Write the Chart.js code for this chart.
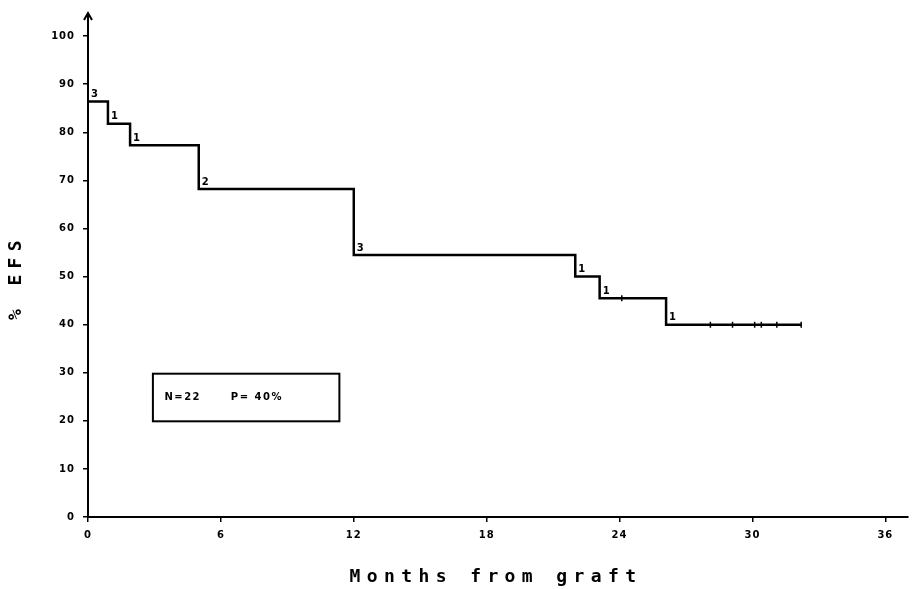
<!DOCTYPE html>
<html>
<head>
<meta charset="utf-8">
<script src="https://cdn.jsdelivr.net/npm/chart.js@4.4.1/dist/chart.umd.min.js"></script>
<style>
    html, body { margin: 0; padding: 0; background: #fff; }
</style>
</head>
<body>
<canvas id="efs" width="913" height="589"></canvas>
<script>
// curve: month of each step and % EFS after it
const stepMonths = [0, 0.9, 1.9, 5.0, 12.0, 22.0, 23.1, 26.1, 32.2];
const efsValues = [86.4, 81.8, 77.3, 68.2, 54.5, 50.0, 45.5, 40.0, 40.0];
const eventCounts = ['3', '1', '1', '2', '3', '1', '1', '1', ''];

// censored patients (small ticks on the curve)
const censorMonths = [24.1, 28.1, 29.1, 30.1, 30.4, 31.1, 32.2];
const censorValues = [45.5, 40.0, 40.0, 40.0, 40.0, 40.0, 40.0];

const xTicks = [0, 6, 12, 18, 24, 30, 36];
const yTicks = [0, 10, 20, 30, 40, 50, 60, 70, 80, 90, 100];
const boxTexts = ['N=22', 'P= 40%'];
const xTitle = 'Months from graft';
const yTitle = '% EFS';

const EfsChart = (() => {
    const _configMap = {
        tickFont: { family: 'DejaVu Sans', weight: 'bold', size: 10 },
        titleFont: 'bold 18px "DejaVu Sans Mono"',
        ink: '#000'
    };

    // extra drawing: arrow, event counts, N/P box, axis titles
    const _extras = {
        id: 'efsExtras',
        beforeDraw(chart) {
            chart.ctx.letterSpacing = '1px';
        },
        afterDraw(chart) {
            const ctx = chart.ctx;
            const x = chart.scales.x;
            const y = chart.scales.y;
            const area = chart.chartArea;
            ctx.save();
            ctx.strokeStyle = _configMap.ink;
            ctx.fillStyle = _configMap.ink;
            ctx.lineWidth = 2;

            // arrow at top of y axis
            ctx.beginPath();
            ctx.moveTo(area.left - 4, area.top + 6);
            ctx.lineTo(area.left, area.top - 1);
            ctx.lineTo(area.left + 4, area.top + 6);
            ctx.stroke();

            // number of events at each step
            ctx.font = 'bold 10px "DejaVu Sans"';
            ctx.letterSpacing = '0px';
            ctx.textAlign = 'left';
            ctx.textBaseline = 'bottom';
            stepMonths.forEach((m, i) => {
                if (!eventCounts[i]) return;
                ctx.fillText(eventCounts[i], x.getPixelForValue(m) + 3, y.getPixelForValue(efsValues[i]) - 2);
            });

            // N / P box
            const left = x.getPixelForValue(2.93);
            const right = x.getPixelForValue(11.35);
            const top = y.getPixelForValue(29.8);
            const bottom = y.getPixelForValue(19.9);
            ctx.strokeRect(left, top, right - left, bottom - top);
            ctx.font = 'bold 10px "DejaVu Sans"';
            ctx.letterSpacing = '1.5px';
            ctx.textBaseline = 'middle';
            ctx.fillText(boxTexts[0], x.getPixelForValue(3.45), (top + bottom) / 2);
            ctx.fillText(boxTexts[1], x.getPixelForValue(6.45), (top + bottom) / 2);

            // axis titles
            ctx.font = _configMap.titleFont;
            ctx.letterSpacing = '6.4px';
            ctx.textAlign = 'center';
            ctx.textBaseline = 'alphabetic';
            ctx.fillText(xTitle, 496, 582);
            ctx.translate(21, 280);
            ctx.rotate(-Math.PI / 2);
            ctx.fillText(yTitle, 3, 0);
            ctx.restore();
        }
    };

    const _init = function (canvas) {
        return new Chart(canvas, {
            type: 'scatter',
            data: {
                datasets: [
                    {
                        data: stepMonths.map((m, i) => ({ x: m, y: efsValues[i] })),
                        showLine: true,
                        stepped: 'before',
                        borderColor: _configMap.ink,
                        borderWidth: 2.5,
                        pointRadius: 0
                    },
                    {
                        data: censorMonths.map((m, i) => ({ x: m, y: censorValues[i] })),
                        showLine: false,
                        pointStyle: 'line',
                        rotation: 90,
                        pointRadius: 3,
                        borderColor: _configMap.ink,
                        borderWidth: 1.5
                    }
                ]
            },
            options: {
                responsive: false,
                animation: false,
                devicePixelRatio: 1,
                layout: { padding: { top: 11, right: 4, left: 0, bottom: 0 } },
                plugins: { legend: { display: false }, tooltip: { enabled: false } },
                scales: {
                    x: {
                        type: 'linear',
                        min: 0,
                        max: 37,
                        afterBuildTicks: s => { s.ticks = xTicks.map(v => ({ value: v })); },
                        afterFit: s => { s.height = 72; },
                        grid: { drawOnChartArea: false, tickLength: 5, color: _configMap.ink, lineWidth: 1.5 },
                        border: { color: _configMap.ink, width: 2 },
                        ticks: { color: _configMap.ink, font: _configMap.tickFont, padding: 7, maxRotation: 0, autoSkip: false }
                    },
                    y: {
                        min: 0,
                        max: 104.6,
                        afterBuildTicks: s => { s.ticks = yTicks.map(v => ({ value: v })); },
                        afterFit: s => { s.width = 88; },
                        grid: { drawOnChartArea: false, tickLength: 5, color: _configMap.ink, lineWidth: 1.5 },
                        border: { color: _configMap.ink, width: 2 },
                        ticks: { color: _configMap.ink, font: _configMap.tickFont, padding: 8 }
                    }
                }
            },
            plugins: [_extras]
        });
    };

    return {
        init: _init
    };
})();

EfsChart.init(document.getElementById('efs'));
</script>
</body>
</html>
